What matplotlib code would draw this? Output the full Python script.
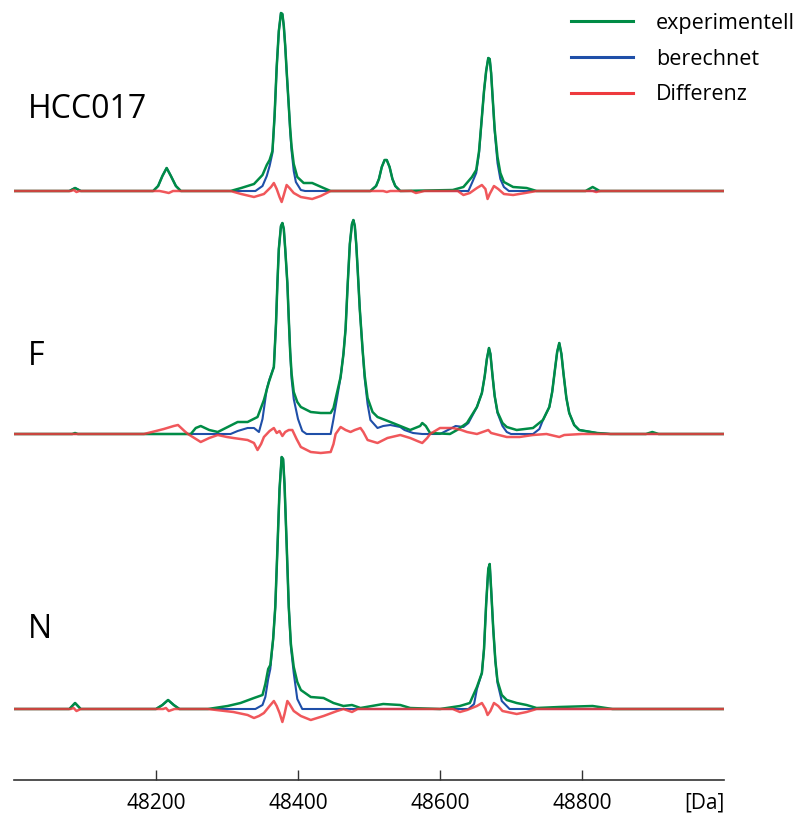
import numpy as np
import matplotlib
matplotlib.use("Agg")
import matplotlib.pyplot as plt

plt.rcParams['font.family'] = ['Open Sans', 'DejaVu Sans']

# traced spectra: (mass [Da], intensity above baseline)
hcc_exp = [(48000, 0), (48078, 0), (48086, 3), (48094, 0), (48196, 0), (48203, 5), (48209, 15),
           (48215, 23), (48221, 15), (48228, 5), (48235, 0), (48305, 0), (48320, 3), (48338, 7),
           (48350, 16), (48356, 26), (48360, 31), (48364, 40), (48367, 75), (48370, 124),
           (48373, 160), (48376, 178), (48378, 177), (48380, 165), (48382, 145), (48384, 120),
           (48387, 85), (48389, 62), (48391, 44), (48394, 27), (48399, 14), (48408, 8), (48420, 8),
           (48436, 3), (48446, 0), (48502, 0), (48510, 5), (48514, 12), (48518, 24), (48522, 31),
           (48525, 31), (48529, 24), (48533, 12), (48537, 5), (48544, 0), (48618, 1), (48633, 4),
           (48645, 14), (48651, 21), (48655, 40), (48659, 74), (48662, 100), (48665, 120),
           (48668, 133), (48670, 132), (48672, 118), (48674, 95), (48677, 62), (48681, 34),
           (48685, 18), (48690, 9), (48703, 4), (48722, 3), (48736, 0), (48805, 0), (48815, 4),
           (48825, 0), (49000, 0)]
hcc_calc = [(48000, 0), (48078, 0), (48086, 3), (48094, 0), (48196, 0), (48203, 5), (48209, 15),
            (48215, 23), (48221, 15), (48228, 5), (48235, 0), (48340, 0), (48350, 5), (48356, 15),
            (48360, 25), (48364, 38), (48367, 75), (48370, 124), (48373, 160), (48376, 178),
            (48378, 177), (48380, 165), (48382, 145), (48384, 120), (48387, 85), (48389, 60),
            (48391, 40), (48394, 20), (48397, 9), (48404, 1), (48410, 0), (48502, 0), (48510, 5),
            (48514, 12), (48518, 24), (48522, 31), (48525, 31), (48529, 24), (48533, 12),
            (48537, 5), (48544, 0), (48640, 0), (48645, 8), (48651, 18), (48655, 38), (48659, 74),
            (48662, 100), (48665, 120), (48668, 133), (48670, 132), (48672, 118), (48674, 95),
            (48677, 60), (48681, 28), (48685, 12), (48690, 4), (48697, 0), (49000, 0)]
hcc_diff = [(48000, 0), (48080, 0), (48084, 1), (48088, -1), (48092, 0), (48205, 0), (48212, -1),
            (48218, -2), (48224, 0), (48305, 0), (48320, -3), (48338, -6), (48352, -3), (48362, 4),
            (48366, 8), (48370, 2), (48374, -6), (48377, -11), (48380, -4), (48384, 6), (48388, 3),
            (48394, -2), (48404, -6), (48420, -8), (48432, -5), (48446, 0), (48520, 0), (48525, -1),
            (48530, 0), (48560, 0), (48566, -2), (48572, -1), (48578, 0), (48625, 0), (48633, -4),
            (48642, -2), (48652, 3), (48659, 6), (48664, 2), (48667, -8), (48670, -3), (48676, 5),
            (48682, 2), (48690, -3), (48703, -4), (48720, -2), (48736, 0), (48815, 0), (48820, -1),
            (48826, 0), (49000, 0)]

f_exp = [(48000, 0), (48082, 0), (48086, 1), (48090, 0), (48249, 0), (48256, 6), (48263, 8),
         (48275, 4), (48287, 2), (48301, 7), (48315, 12), (48329, 12), (48343, 17), (48352, 34),
         (48359, 52), (48366, 67), (48369, 110), (48371, 151), (48373, 185), (48376, 208),
         (48378, 211), (48380, 205), (48382, 185), (48385, 151), (48387, 115), (48389, 82),
         (48391, 60), (48394, 42), (48399, 32), (48404, 27), (48418, 22), (48432, 21),
         (48446, 21), (48450, 26), (48460, 57), (48464, 80), (48467, 105), (48470, 150),
         (48473, 190), (48476, 210), (48478, 214), (48480, 208), (48482, 190), (48484, 165),
         (48487, 125), (48491, 84), (48494, 58), (48498, 36), (48505, 22), (48512, 17),
         (48530, 12), (48544, 8), (48558, 4), (48572, 8), (48575, 11), (48580, 8), (48586, 1),
         (48614, 0), (48624, 4), (48638, 11), (48652, 27), (48659, 41), (48663, 58), (48666, 75),
         (48669, 86), (48671, 80), (48674, 58), (48677, 38), (48681, 22), (48688, 11),
         (48694, 7), (48708, 4), (48731, 6), (48745, 14), (48754, 27), (48758, 42), (48762, 65),
         (48765, 82), (48768, 91), (48771, 80), (48774, 60), (48778, 36), (48782, 21),
         (48789, 9), (48796, 4), (48821, 1), (48840, 0), (48890, 0), (48899, 2), (48908, 0),
         (49000, 0)]
f_calc = [(48000, 0), (48305, 0), (48315, 3), (48329, 6), (48338, 6), (48345, 2), (48350, 15),
          (48356, 45), (48360, 55), (48366, 67), (48369, 110), (48371, 151), (48373, 185),
          (48376, 208), (48378, 211), (48380, 205), (48382, 185), (48385, 151), (48387, 115),
          (48389, 82), (48391, 55), (48394, 35), (48400, 15), (48406, 3), (48412, 0), (48446, 0),
          (48450, 15), (48460, 57), (48464, 80), (48467, 105), (48470, 150), (48473, 190),
          (48476, 210), (48478, 214), (48480, 208), (48482, 190), (48484, 165), (48487, 125),
          (48491, 84), (48494, 55), (48498, 30), (48502, 14), (48512, 6), (48520, 8), (48530, 9),
          (48544, 7), (48550, 4), (48562, 1), (48575, 0), (48600, 0), (48614, 5), (48622, 8),
          (48633, 7), (48640, 11), (48652, 27), (48659, 41), (48663, 58), (48666, 75),
          (48669, 86), (48671, 80), (48674, 58), (48677, 38), (48681, 21), (48688, 8),
          (48694, 2), (48700, 0), (48731, 0), (48740, 5), (48745, 14), (48754, 27), (48758, 42),
          (48762, 65), (48765, 82), (48768, 91), (48771, 80), (48774, 60), (48778, 36),
          (48782, 21), (48789, 9), (48796, 4), (48821, 1), (48840, 0), (49000, 0)]
f_diff = [(48000, 0), (48183, 0), (48200, 3), (48211, 5), (48225, 8), (48231, 9), (48240, 3),
          (48245, 0), (48263, -8), (48275, -4), (48287, -1), (48300, -3), (48309, -4),
          (48329, -6), (48338, -9), (48343, -16), (48348, -10), (48352, -3), (48360, 3),
          (48366, 6), (48370, 1), (48374, 3), (48378, -2), (48382, 2), (48387, 4), (48392, 4),
          (48398, -5), (48404, -13), (48418, -18), (48432, -19), (48446, -18), (48450, -10),
          (48453, 0), (48460, 7), (48467, 4), (48474, 2), (48480, 4), (48488, 6), (48492, 2),
          (48498, -6), (48512, -9), (48526, -4), (48544, -1), (48558, -4), (48568, -7),
          (48575, -9), (48582, -4), (48586, 0), (48600, 6), (48618, 6), (48630, 4), (48638, 2),
          (48652, 0), (48660, 2), (48668, 4), (48672, 1), (48694, -3), (48712, -3), (48731, -1),
          (48750, 0), (48762, -2), (48768, -3), (48775, -1), (48800, 0), (49000, 0)]

n_exp = [(48000, 0), (48078, 0), (48086, 6), (48094, 0), (48200, 0), (48209, 4), (48217, 9),
         (48225, 4), (48233, 0), (48273, 0), (48301, 3), (48319, 6), (48338, 11), (48350, 14),
         (48354, 25), (48358, 40), (48361, 44), (48365, 70), (48368, 102), (48371, 160),
         (48374, 220), (48377, 252), (48379, 250), (48381, 225), (48384, 165), (48387, 102),
         (48390, 65), (48394, 42), (48399, 27), (48404, 19), (48418, 12), (48436, 11),
         (48450, 6), (48464, 3), (48476, 4), (48488, 1), (48520, 5), (48544, 4), (48558, 1),
         (48600, 0), (48628, 3), (48642, 6), (48652, 22), (48659, 36), (48662, 60), (48665, 105),
         (48668, 140), (48670, 145), (48672, 120), (48675, 80), (48678, 48), (48681, 28),
         (48687, 14), (48694, 9), (48708, 6), (48722, 4), (48736, 1), (48768, 2), (48815, 3),
         (48843, 0), (49000, 0)]
n_calc = [(48000, 0), (48078, 0), (48086, 6), (48094, 0), (48200, 0), (48209, 4), (48217, 9),
          (48225, 4), (48233, 0), (48340, 0), (48350, 4), (48354, 12), (48358, 30), (48361, 40),
          (48365, 70), (48368, 102), (48371, 160), (48374, 220), (48377, 252), (48379, 250),
          (48381, 225), (48384, 165), (48387, 102), (48390, 62), (48394, 36), (48399, 10),
          (48406, 0), (48640, 0), (48648, 5), (48652, 20), (48659, 36), (48662, 60), (48665, 105),
          (48668, 140), (48670, 145), (48672, 120), (48675, 80), (48678, 48), (48681, 26),
          (48687, 8), (48698, 0), (49000, 0)]
n_diff = [(48000, 0), (48080, 0), (48084, 1), (48088, -2), (48094, 0), (48210, 0), (48214, 1),
          (48218, -2), (48226, 0), (48273, 0), (48309, -3), (48329, -6), (48338, -9),
          (48345, -7), (48352, -4), (48360, 3), (48366, 8), (48370, 3), (48374, -4), (48378, -13),
          (48381, -5), (48385, 8), (48388, 5), (48394, -2), (48404, -7), (48418, -11),
          (48436, -7), (48455, -2), (48464, 0), (48476, -3), (48484, 0), (48618, 0), (48628, -3),
          (48638, -1), (48652, 3), (48659, 6), (48664, 0), (48667, -6), (48671, -2), (48676, 6),
          (48682, 3), (48688, -2), (48708, -5), (48722, -3), (48736, 0), (49000, 0)]

sample_names = ['HCC017', 'F', 'N']
baselines = [589, 346, 71]
label_y = [662, 415, 142]
tick_vals = [48200, 48400, 48600, 48800]
legend_labels = ['experimentell', 'berechnet', 'Differenz']

c_exp = '#008c46'
c_calc = '#1f4fa8'
c_diff = '#ee3a3e'

fig = plt.figure(figsize=(7.98, 8.13), dpi=100)
ax = fig.add_axes([14 / 798, 33 / 813, 710 / 798, 780 / 813])

panels = [(hcc_exp, hcc_calc, hcc_diff), (f_exp, f_calc, f_diff), (n_exp, n_calc, n_diff)]
for (exp, calc, diff), base, name, ly in zip(panels, baselines, sample_names, label_y):
    exp = np.array(exp, dtype=float)
    calc = np.array(calc, dtype=float)
    diff = np.array(diff, dtype=float)
    l2, = ax.plot(calc[:, 0], calc[:, 1] + base, color=c_calc, lw=1.5)
    l1, = ax.plot(exp[:, 0], exp[:, 1] + base, color=c_exp, lw=1.8)
    l3, = ax.plot(diff[:, 0], diff[:, 1] + base, color=c_diff, lw=1.8, alpha=0.85)
    ax.text(48019, ly, name, fontsize=23, va='baseline', ha='left')

ax.set_xlim(48000, 49000)
ax.set_ylim(0, 780)
for s in ['left', 'right', 'top']:
    ax.spines[s].set_visible(False)
ax.spines['bottom'].set_color('#333333')
ax.spines['bottom'].set_linewidth(1.2)
ax.set_yticks([])
ax.set_xticks(tick_vals)
ax.set_xticklabels([str(t) for t in tick_vals])
ax.tick_params(axis='x', direction='in', length=7, width=1, color='#333333',
               labelsize=15, pad=9)
ax.text(1.0, -0.036, '[Da]', transform=ax.transAxes, fontsize=15,
        ha='right', va='baseline')

leg = fig.legend([l1, l2, l3], legend_labels, loc='upper left',
                 bbox_to_anchor=(552 / 798, 1.008), frameon=False, fontsize=15.5,
                 handlelength=2.84, handletextpad=1.1, labelspacing=0.68)
for h in leg.get_lines():
    h.set_linewidth(2.2)
    h.set_alpha(1)

fig.savefig('out.png', dpi=100)
